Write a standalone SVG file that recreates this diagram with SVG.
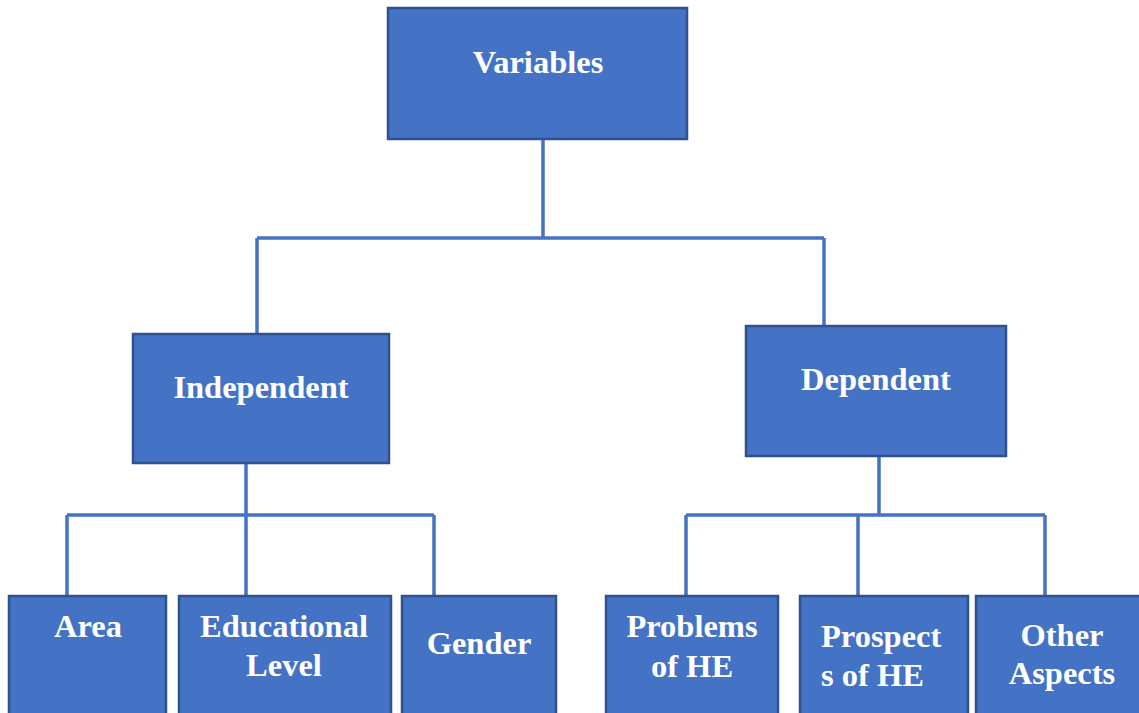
<svg xmlns="http://www.w3.org/2000/svg" width="1139" height="713" viewBox="0 0 1139 713">
<style>
.box{fill:#4472C4;stroke:#2F528F;stroke-width:2.5}
.lbl{font-family:"Liberation Serif","Times New Roman",serif;font-weight:bold;font-size:32.5px;fill:#FFFFFF;text-anchor:middle}
.left{text-anchor:start}
.conn{fill:none;stroke:#4472C4;stroke-width:3.5}
</style>
<rect width="1139" height="713" fill="#FFFFFF"/>
<g id="connectors">
<path class="conn" d="M543,139 V238 M257,238 H824 M257,238 V334 M824,238 V326"/>
<path class="conn" d="M246,463 V515 M67,515 H434 M67,515 V596 M246,515 V596 M434,515 V596"/>
<path class="conn" d="M879,456 V515 M686,515 H1045 M686,515 V596 M858,515 V596 M1045,515 V596"/>
</g>
<g id="variables">
<rect class="box" x="388" y="8" width="299" height="131"/>
<text class="lbl" x="538" y="73">Variables</text>
</g>
<g id="independent">
<rect class="box" x="133" y="334" width="256" height="129"/>
<text class="lbl" x="261" y="398">Independent</text>
</g>
<g id="dependent">
<rect class="box" x="746" y="326" width="260" height="130"/>
<text class="lbl" x="876" y="390">Dependent</text>
</g>
<g id="area">
<rect class="box" x="9" y="596" width="157" height="130"/>
<text class="lbl" x="88" y="637">Area</text>
</g>
<g id="educational-level">
<rect class="box" x="179" y="596" width="212" height="130"/>
<text class="lbl" x="284" y="637">Educational</text>
<text class="lbl" x="284" y="676">Level</text>
</g>
<g id="gender">
<rect class="box" x="402" y="596" width="154" height="130"/>
<text class="lbl" x="479" y="654">Gender</text>
</g>
<g id="problems">
<rect class="box" x="606" y="596" width="172" height="130"/>
<text class="lbl" x="692" y="637">Problems</text>
<text class="lbl" x="692" y="677">of HE</text>
</g>
<g id="prospects">
<rect class="box" x="800" y="596" width="168" height="130"/>
<text class="lbl left" x="821" y="647">Prospect</text>
<text class="lbl left" x="821" y="686">s of HE</text>
</g>
<g id="other-aspects">
<rect class="box" x="976" y="596" width="170" height="130"/>
<text class="lbl" x="1062" y="646">Other</text>
<text class="lbl" x="1062" y="684">Aspects</text>
</g>
</svg>
